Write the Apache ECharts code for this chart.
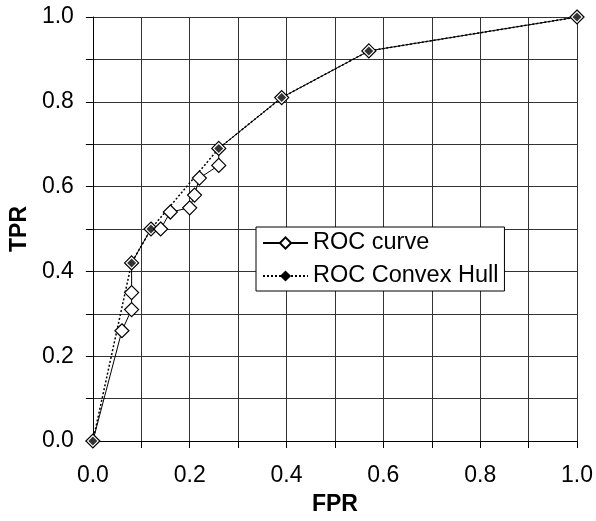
<!DOCTYPE html>
<html>
<head>
<meta charset="utf-8">
<script src="https://cdn.jsdelivr.net/npm/echarts@6/dist/echarts.min.js"></script>
<style>
  html, body { margin: 0; padding: 0; background: #fff; }
  #chart { width: 596px; height: 521px; }
</style>
</head>
<body>
<div id="chart"></div>
<script>
// ROC curve points (FPR, TPR)
const rocFpr = [0.00, 0.06, 0.08, 0.08, 0.08, 0.12, 0.14, 0.16, 0.20, 0.21, 0.22, 0.26, 0.26, 0.39, 0.57, 1.00]
const rocTpr = [0.00, 0.26, 0.31, 0.35, 0.42, 0.50, 0.50, 0.54, 0.55, 0.58, 0.62, 0.65, 0.69, 0.81, 0.92, 1.00]

// convex hull points
const hullFpr = [0.00, 0.08, 0.12, 0.26, 0.39, 0.57, 1.00]
const hullTpr = [0.00, 0.42, 0.50, 0.69, 0.81, 0.92, 1.00]

const seriesNames = ['ROC curve', 'ROC Convex Hull']

const font = 'Liberation Sans, Arial, sans-serif'

const toPairs = (xs, ys) => xs.map((x, i) => [x, ys[i]])
const rocData = toPairs(rocFpr, rocTpr)
const hullData = toPairs(hullFpr, hullTpr)

// labels only every 0.2, ticks/grid every 0.1
const tickLabel = v => (Math.round(v * 10) % 2 === 0 ? v.toFixed(1) : '')

const axisCommon = {
  type: 'value',
  min: 0,
  max: 1,
  interval: 0.1,
  nameLocation: 'middle',
  nameTextStyle: { fontFamily: font, fontSize: 23, fontWeight: 'bold', color: '#000' },
  axisLine: { show: true, lineStyle: { color: '#000', width: 1 } },
  axisTick: { show: true, inside: false, length: 7, lineStyle: { color: '#000' } },
  axisLabel: { fontFamily: font, fontSize: 23, color: '#000', formatter: tickLabel },
  splitLine: { show: true, lineStyle: { color: '#333', width: 1 } }
}

const chart = echarts.init(document.getElementById('chart'), null, { renderer: 'canvas' })

const option = {
  animation: false,
  backgroundColor: '#fff',
  grid: { left: 86, right: 17, top: 17, height: 427 },
  xAxis: Object.assign({}, axisCommon, {
    name: 'FPR',
    nameGap: 52,
    axisLabel: Object.assign({}, axisCommon.axisLabel, { margin: 23 })
  }),
  yAxis: Object.assign({}, axisCommon, {
    name: 'TPR',
    nameGap: 55,
    axisLabel: Object.assign({}, axisCommon.axisLabel, { margin: 19 })
  }),
  legend: {
    data: seriesNames,
    orient: 'vertical',
    left: 256,
    top: 227,
    padding: [4, 6, 3, 6],
    itemWidth: 45,
    itemHeight: 14,
    itemGap: 9,
    backgroundColor: '#fff',
    borderColor: '#000',
    borderWidth: 1,
    textStyle: { fontFamily: font, fontSize: 23.5, color: '#000' }
  },
  series: [
    {
      name: seriesNames[1],
      type: 'line',
      z: 1,
      data: hullData,
      symbol: 'diamond',
      symbolSize: 9,
      itemStyle: { color: '#000' },
      lineStyle: { color: '#000', width: 1.5, type: [2, 2] }
    },
    {
      name: seriesNames[0],
      type: 'line',
      z: 2,
      data: rocData,
      symbol: 'diamond',
      symbolSize: 14,
      itemStyle: { color: '#fff', borderColor: '#000', borderWidth: 1.2 },
      lineStyle: { color: '#000', width: 1 }
    },
    {
      // hull markers drawn on top of the open diamonds
      type: 'scatter',
      z: 3,
      data: hullData,
      symbol: 'diamond',
      symbolSize: 9,
      itemStyle: { color: '#000' }
    }
  ]
}

chart.setOption(option)
</script>
</body>
</html>
